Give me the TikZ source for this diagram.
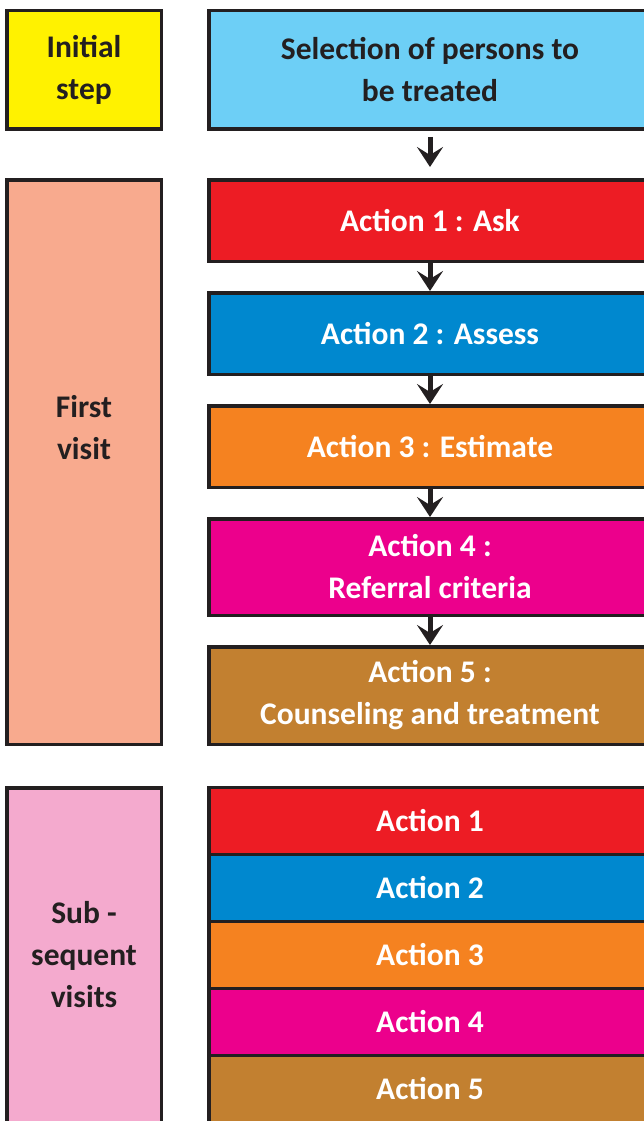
\documentclass[tikz,border=0pt]{standalone}
\usepackage{fontspec}
\setmainfont{Carlito}
\usetikzlibrary{positioning,arrows.meta}
\definecolor{linec}{HTML}{231F20}
\definecolor{yellowc}{HTML}{FFF200}
\definecolor{skyc}{HTML}{6DCFF6}
\definecolor{redc}{HTML}{ED1C24}
\definecolor{bluec}{HTML}{0088CF}
\definecolor{orangec}{HTML}{F58220}
\definecolor{magentac}{HTML}{EC008C}
\definecolor{brownc}{HTML}{C28030}
\definecolor{salmonc}{HTML}{F8AA8E}
\definecolor{pinkc}{HTML}{F4AACE}

\begin{document}
\begin{tikzpicture}[
        x=1pt, y=-1pt,
        font=\fontsize{31.5}{42}\selectfont\bfseries,
        box/.style={rectangle, draw=linec, line width=3.5pt, align=center, inner sep=0pt},
        side/.style={box, text=linec, minimum width=154.5pt},
        action/.style={box, text=white, minimum width=442.5pt},
        arrow/.style={line width=5pt, draw=linec, -{Stealth[length=20pt, width=26pt, inset=8pt]}}
    ]
        \clip (0,0) rectangle (644,1121);

        % Initial step
        \node[side, fill=yellowc, minimum height=118.5pt] (init) at (84,70) {Initial\\step};
        \node[box, fill=skyc, text=linec, minimum width=442.5pt, minimum height=118.5pt] (sel) at (430,70) {Selection of persons to\\be treated};

        % First visit
        \node[side, fill=salmonc, minimum height=564.5pt] (first) at (84,462) {};
        \node[text=linec, align=center] (firstlbl) at (84,428) {First\\visit};
        \node[action, fill=redc, minimum height=81.5pt] (act1) at (430,220.5) {Action 1 : Ask};
        \node[action, fill=bluec, minimum height=81.5pt, below=28pt of act1] (act2) {Action 2 : Assess};
        \node[action, fill=orangec, minimum height=81.5pt, below=28pt of act2] (act3) {Action 3 : Estimate};
        \node[action, fill=magentac, minimum height=96.5pt, below=28pt of act3] (act4) {Action 4 :\\Referral criteria};
        \node[action, fill=brownc, minimum height=97.5pt, below=28pt of act4] (act5) {Action 5 :\\Counseling and treatment};

        % Subsequent visits
        \node[side, fill=pinkc, minimum height=334.5pt] (sub) at (84,955) {Sub -\\sequent\\visits};
        \node[action, fill=redc, minimum height=67pt] (next1) at (430,821) {Action 1};
        \node[action, fill=bluec, minimum height=67pt, below=-3.5pt of next1] (next2) {Action 2};
        \node[action, fill=orangec, minimum height=67pt, below=-3.5pt of next2] (next3) {Action 3};
        \node[action, fill=magentac, minimum height=67pt, below=-3.5pt of next3] (next4) {Action 4};
        \node[action, fill=brownc, minimum height=67pt, below=-3.5pt of next4] (next5) {Action 5};

        % Arrows
        \draw[arrow, shorten <=6pt, shorten >=11pt] (sel) -- (act1);
        \draw[arrow] (act1) -- (act2);
        \draw[arrow] (act2) -- (act3);
        \draw[arrow] (act3) -- (act4);
        \draw[arrow] (act4) -- (act5);
    \end{tikzpicture}
\end{document}
